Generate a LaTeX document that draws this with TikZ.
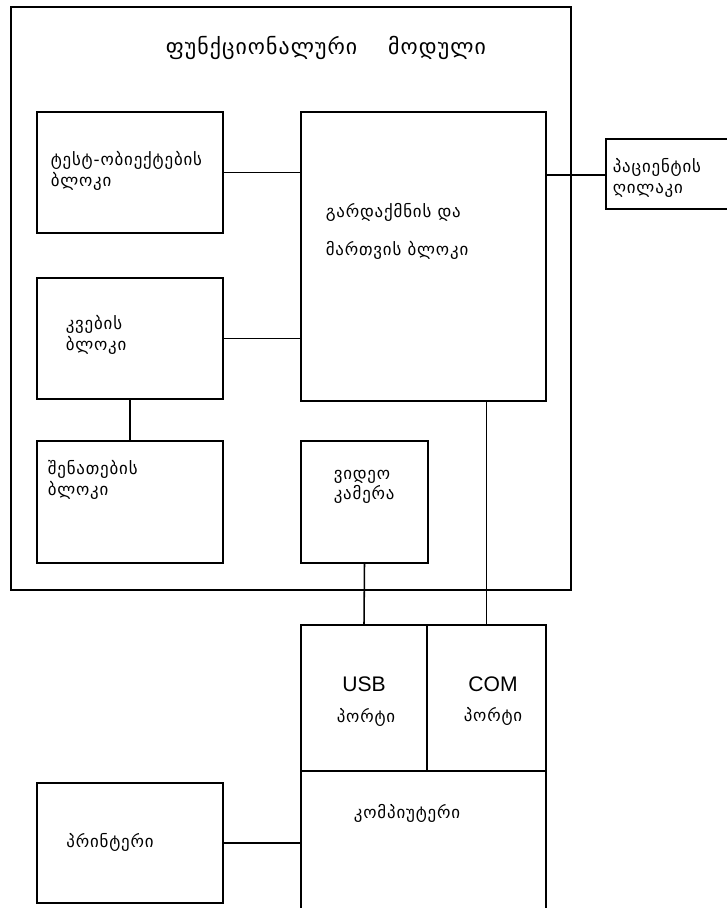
\documentclass[tikz,border=0pt]{standalone}
\usepackage{fontspec}
\newfontfamily\geo[LetterSpace=5]{DejaVu Sans}
\setsansfont{Liberation Sans}
\usetikzlibrary{positioning}

\tikzset{
  blk/.style={draw, line width=1.1pt, inner sep=0pt},
  lbl/.style={font=\geo\fontsize{12}{14.5}\selectfont, anchor=west, inner sep=0pt, align=left},
  port/.style={font=\sffamily\fontsize{15}{17}\selectfont, inner sep=0pt}
}

\begin{document}
\begin{tikzpicture}[x=0.025cm, y=-0.025cm, line width=1.1pt]
      \useasboundingbox (0,0) rectangle (726,908);

      % boxes
      \node[blk, minimum width=14cm, minimum height=14.575cm] (module) at (291,298.5) {};
      \node[blk, minimum width=4.65cm, minimum height=3.025cm] (test) at (130,172.5) {};
      \node[blk, minimum width=6.125cm, minimum height=7.225cm] (conv) at (423.5,256.5) {};
      \node[blk, minimum width=3.15cm, minimum height=1.75cm] (pat) at (669,174) {};
      \node[blk, minimum width=4.65cm, minimum height=3.025cm] (power) at (130,338.5) {};
      \node[blk, minimum width=4.65cm, minimum height=3.05cm] (light) at (130,502) {};
      \node[blk, minimum width=3.175cm, minimum height=3.05cm] (cam) at (364.5,502) {};
      \node[blk, minimum width=3.15cm, minimum height=3.65cm] (usb) at (364,698) {};
      \node[blk, minimum width=2.975cm, minimum height=3.65cm] (com) at (486.5,698) {};
      \node[blk, minimum width=6.125cm, minimum height=3.525cm] (comp) at (423.5,841.5) {};
      \node[blk, minimum width=4.65cm, minimum height=3cm] (printer) at (130,843) {};

      % texts
      \node[lbl, font=\geo\fontsize{15.5}{18}\selectfont] (title) at (165,48) {ფუნქციონალური\hspace{22pt}მოდული};
      \node[lbl] (testtxt) at (50,171) {ტესტ-ობიექტების\\ბლოკი};
      \node[lbl] (convtxt) at (325,231) {გარდაქმნის და\\[12.5pt]მართვის ბლოკი};
      \node[lbl] (pattxt) at (612,178) {პაციენტის\\ღილაკი};
      \node[lbl] (powtxt) at (65,335) {კვების\\ბლოკი};
      \node[lbl] (lighttxt) at (47,480) {შენათების\\ბლოკი};
      \node[lbl] (camtxt) at (333,487) {ვიდეო\\კამერა};
      \node[port] (usbtxt) at (364,684) {USB};
      \node[lbl, anchor=center] (usbport) at (366,717) {პორტი};
      \node[port] (comtxt) at (493,684) {COM};
      \node[lbl, anchor=center] (comport) at (493,716) {პორტი};
      \node[lbl, anchor=center] (comptxt) at (407,813) {კომპიუტერი};
      \node[lbl, anchor=center] (printtxt) at (110,842) {პრინტერი};

      % connectors
      \coordinate (patin) at (606,175);
      \draw (test.east) -- (test.east -| conv.west);
      \draw (power.east) -- (power.east -| conv.west);
      \draw (conv.east |- patin) -- (pat.west |- patin);
      \draw (power.south) -- (light.north);
      \draw (cam.south) -- (usb.north);
      \draw (com.north |- conv.south) -- (com.north);
      \draw (printer.east) -- (printer.east -| comp.west);
    \end{tikzpicture}
\end{document}
